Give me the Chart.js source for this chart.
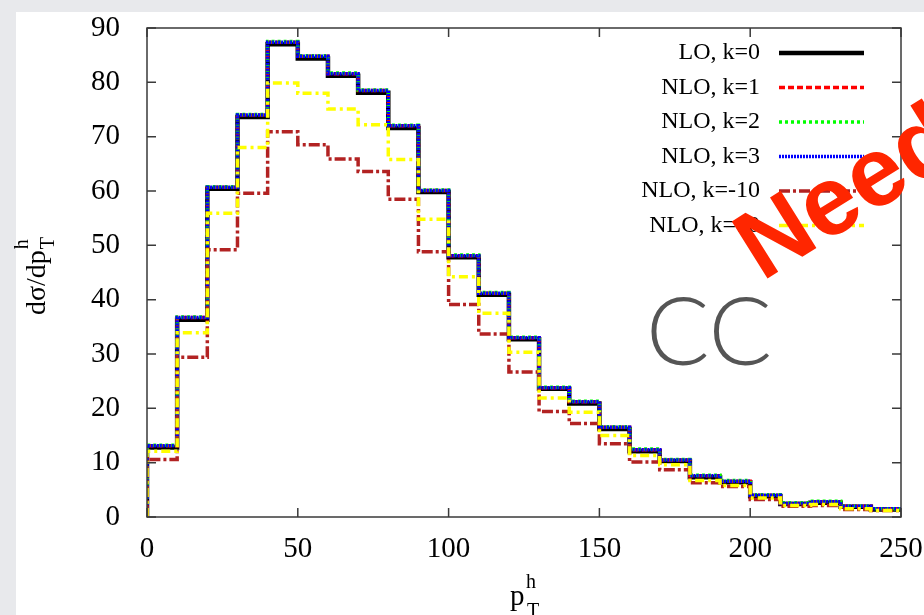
<!DOCTYPE html>
<html>
<head>
<meta charset="utf-8">
<script src="https://cdn.jsdelivr.net/npm/chart.js@4.4.0/dist/chart.umd.min.js"></script>
<style>
    html, body { margin: 0; padding: 0; background: #e8e9ec; overflow: hidden; }
    #folha { position: absolute; left: 16px; top: 12px; width: 908px; height: 603px; background: #fff; }
    canvas { position: absolute; left: 0; top: 0; }
</style>
</head>
<body>
<div id="folha"></div>
<canvas id="canvas_pt" width="924" height="615"></canvas>
<script>
// bordas superiores dos bins de p_T (largura 10)
const binsPt = [10, 20, 30, 40, 50, 60, 70, 80, 90, 100, 110, 120, 130, 140, 150, 160, 170, 180, 190, 200, 210, 220, 230, 240, 250];

const loK0    = [12.8, 36.3, 60.4, 73.6, 87.0, 84.4, 81.2, 78.1, 71.6, 59.8, 47.8, 40.9, 32.7, 23.6, 20.9, 16.2, 12.1, 10.3, 7.3, 6.4, 3.8, 2.4, 2.6, 1.9, 1.4];
const nloK1   = [13.1, 36.7, 60.7, 74.0, 87.4, 84.8, 81.6, 78.5, 72.0, 60.1, 48.1, 41.2, 33.0, 23.8, 21.2, 16.5, 12.4, 10.5, 7.6, 6.6, 4.0, 2.5, 2.8, 2.0, 1.5];
const nloK2   = [13.2, 36.8, 60.8, 74.1, 87.5, 84.9, 81.7, 78.6, 72.1, 60.2, 48.2, 41.3, 33.1, 23.9, 21.3, 16.6, 12.5, 10.6, 7.7, 6.7, 4.1, 2.6, 2.9, 2.0, 1.5];
const nloK3   = [13.1, 36.7, 60.7, 74.0, 87.4, 84.8, 81.6, 78.5, 72.0, 60.1, 48.1, 41.2, 33.0, 23.8, 21.2, 16.5, 12.4, 10.5, 7.6, 6.6, 4.0, 2.5, 2.8, 2.0, 1.5];
const nloKm10 = [10.6, 29.4, 49.2, 59.6, 70.9, 68.5, 65.9, 63.6, 58.5, 48.8, 39.1, 33.7, 26.7, 19.4, 17.2, 13.5, 10.1, 8.7, 6.3, 5.6, 3.2, 2.0, 2.1, 1.4, 1.2];
const nloK10  = [12.1, 33.9, 55.9, 68.0, 79.9, 78.0, 75.1, 72.2, 65.8, 54.8, 44.2, 37.5, 30.3, 21.9, 19.3, 15.0, 11.3, 9.6, 6.7, 5.8, 3.5, 2.1, 2.3, 1.5, 1.2];

const legendas = ['LO, k=0', 'NLO, k=1', 'NLO, k=2', 'NLO, k=3', 'NLO, k=-10', 'NLO, k=10'];
const ticksX = [0, 50, 100, 150, 200, 250];
const ticksY = [0, 10, 20, 30, 40, 50, 60, 70, 80, 90];

const serif = '"Liberation Serif", "DejaVu Serif", serif';

function montarHistograma(valores){
    // começa em (0,0) e sobe; stepped 'after' usa o valor do ponto seguinte no bin
    let pontos = [{ x: 0, y: 0 }];
    for(let i = 0; i < binsPt.length; i++){
        pontos.push({ x: binsPt[i], y: valores[i] });
    }
    return pontos;
}

const estilos = [
    { cor: '#000000', largura: 4.5, tracejado: [] },
    { cor: '#ff0000', largura: 3.5, tracejado: [6, 3] },
    { cor: '#00ff00', largura: 3.5, tracejado: [3, 3] },
    { cor: '#0000ff', largura: 3.5, tracejado: [2, 1] },
    { cor: '#b22222', largura: 3.5, tracejado: [11, 3, 3, 3] },
    { cor: '#ffff00', largura: 3.5, tracejado: [9, 4, 3, 4] },
];

const series = [loK0, nloK1, nloK2, nloK3, nloKm10, nloK10];

const datasets = series.map((valores, i) => ({
    label: legendas[i],
    data: montarHistograma(valores),
    borderColor: estilos[i].cor,
    borderWidth: estilos[i].largura,
    borderDash: estilos[i].tracejado,
    stepped: 'after',
    pointRadius: 0,
    fill: false,
    order: series.length - i,
}));

// tira o espaço extra que o Chart.js reserva para os rótulos das pontas
function zerarPadding(s){
    s.paddingTop = 0;
    s.paddingBottom = 0;
    s.paddingLeft = 0;
    s.paddingRight = 0;
}

const gnuplotEstilo = {
    id: 'gnuplotEstilo',
    afterDraw(chart){
        const ctx = chart.ctx;
        const area = chart.chartArea;
        const sx = chart.scales.x;
        const sy = chart.scales.y;

        ctx.save();

        // moldura
        ctx.strokeStyle = '#3a3a3a';
        ctx.lineWidth = 1.5;
        ctx.strokeRect(area.left, area.top, area.right - area.left, area.bottom - area.top);

        // ticks para dentro, nos quatro lados
        ctx.beginPath();
        ticksX.forEach(v => {
            let px = sx.getPixelForValue(v);
            ctx.moveTo(px, area.bottom); ctx.lineTo(px, area.bottom - 9);
            ctx.moveTo(px, area.top); ctx.lineTo(px, area.top + 9);
        });
        ticksY.forEach(v => {
            let py = sy.getPixelForValue(v);
            ctx.moveTo(area.left, py); ctx.lineTo(area.left + 9, py);
            ctx.moveTo(area.right, py); ctx.lineTo(area.right - 9, py);
        });
        ctx.stroke();

        // legenda
        ctx.font = '24px ' + serif;
        ctx.textAlign = 'right';
        ctx.textBaseline = 'middle';
        legendas.forEach((txt, i) => {
            let y = area.top + 25 + i * 34.5;
            ctx.fillStyle = '#000';
            ctx.fillText(txt, area.right - 141, y);
            ctx.beginPath();
            ctx.strokeStyle = estilos[i].cor;
            ctx.lineWidth = estilos[i].largura;
            ctx.setLineDash(estilos[i].tracejado);
            ctx.moveTo(area.right - 122, y);
            ctx.lineTo(area.right - 37, y);
            ctx.stroke();
            ctx.setLineDash([]);
        });

        // titulo eixo y: dσ/dp_T^h
        ctx.save();
        ctx.translate(45, 315);
        ctx.rotate(-Math.PI / 2);
        ctx.textAlign = 'left';
        ctx.textBaseline = 'alphabetic';
        ctx.fillStyle = '#000';
        ctx.font = '28px ' + serif;
        ctx.fillText('dσ/dp', 0, 0);
        let w = ctx.measureText('dσ/dp').width;
        ctx.font = '20px ' + serif;
        ctx.fillText('T', w + 1, 9);
        ctx.fillText('h', w + 1, -17);
        ctx.restore();

        // titulo eixo x: p_T^h
        ctx.textAlign = 'left';
        ctx.textBaseline = 'alphabetic';
        ctx.fillStyle = '#000';
        ctx.font = '29px ' + serif;
        ctx.fillText('p', 510, 605);
        ctx.font = '20px ' + serif;
        ctx.fillText('T', 527, 617);
        ctx.fillText('h', 526, 588);

        // CC
        ctx.fillStyle = '#555555';
        ctx.font = '300 94px Lato, "DejaVu Sans", sans-serif';
        ctx.textAlign = 'left';
        ctx.fillText('CC', 646, 365);

        // Need (carimbo vermelho)
        ctx.save();
        ctx.translate(762, 282);
        ctx.rotate(-32 * Math.PI / 180);
        ctx.fillStyle = '#ff2600';
        ctx.font = 'bold 98px "Liberation Sans", Arial, sans-serif';
        ctx.fillText('Need', 0, 0);
        ctx.restore();

        ctx.restore();
    }
};

new Chart(document.getElementById('canvas_pt'), {
    type: 'line',
    data: { datasets: datasets },
    options: {
        responsive: false,
        animation: false,
        layout: {
            autoPadding: false,
            padding: { top: 28, right: 23, left: 0, bottom: 0 },
        },
        elements: {
            line: { tension: 0 },
        },
        scales: {
            x: {
                type: 'linear',
                min: 0,
                max: 250,
                afterBuildTicks: s => { s.ticks = ticksX.map(v => ({ value: v })); },
                afterFit: s => { s.height = 98; zerarPadding(s); },
                grid: { display: false },
                border: { display: false },
                ticks: {
                    color: '#000',
                    padding: 7,
                    font: { family: serif, size: 29 },
                },
            },
            y: {
                type: 'linear',
                min: 0,
                max: 90,
                afterBuildTicks: s => { s.ticks = ticksY.map(v => ({ value: v })); },
                afterFit: s => { s.width = 147; zerarPadding(s); },
                grid: { display: false },
                border: { display: false },
                ticks: {
                    color: '#000',
                    padding: 19,
                    font: { family: serif, size: 29 },
                },
            },
        },
        plugins: {
            legend: { display: false },
            tooltip: { enabled: false },
        },
    },
    plugins: [gnuplotEstilo],
});
</script>
</body>
</html>
